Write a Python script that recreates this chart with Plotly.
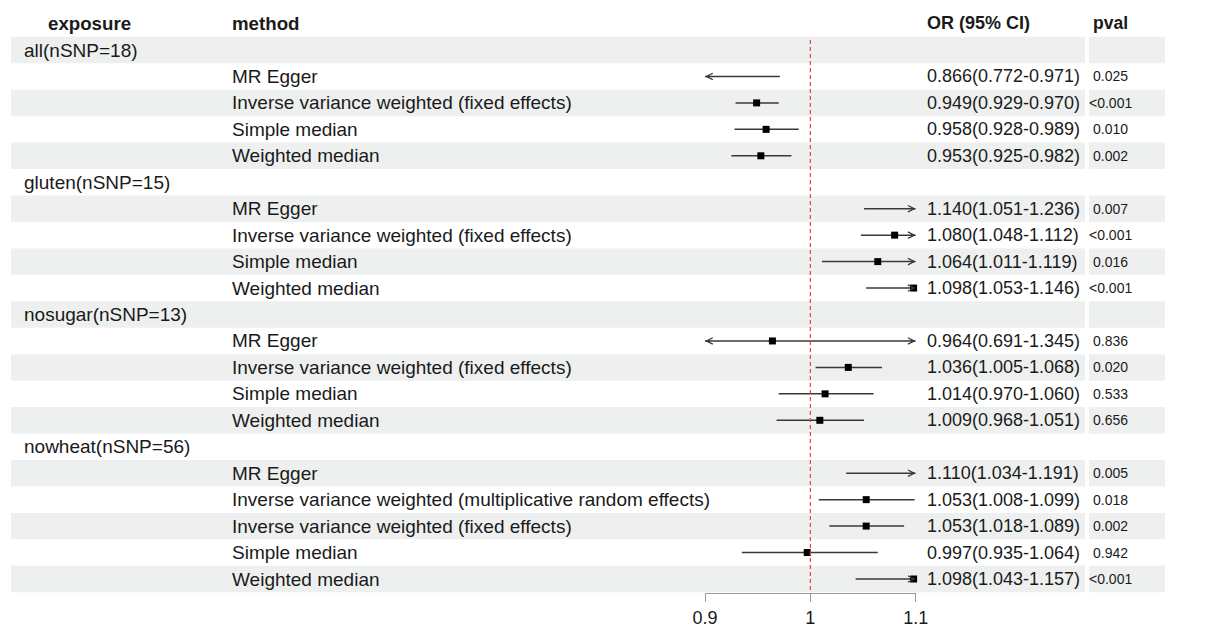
import plotly.graph_objects as go

# ---------------- data ----------------
exposures = ["all(nSNP=18)", "gluten(nSNP=15)", "nosugar(nSNP=13)", "nowheat(nSNP=56)"]
group_sizes = [4, 4, 4, 5]

methods = [
    "MR Egger", "Inverse variance weighted (fixed effects)", "Simple median", "Weighted median",
    "MR Egger", "Inverse variance weighted (fixed effects)", "Simple median", "Weighted median",
    "MR Egger", "Inverse variance weighted (fixed effects)", "Simple median", "Weighted median",
    "MR Egger", "Inverse variance weighted (multiplicative random effects)",
    "Inverse variance weighted (fixed effects)", "Simple median", "Weighted median",
]
or_vals = [0.866, 0.949, 0.958, 0.953,
           1.140, 1.080, 1.064, 1.098,
           0.964, 1.036, 1.014, 1.009,
           1.110, 1.053, 1.053, 0.997, 1.098]
lo_vals = [0.772, 0.929, 0.928, 0.925,
           1.051, 1.048, 1.011, 1.053,
           0.691, 1.005, 0.970, 0.968,
           1.034, 1.008, 1.018, 0.935, 1.043]
hi_vals = [0.971, 0.970, 0.989, 0.982,
           1.236, 1.112, 1.119, 1.146,
           1.345, 1.068, 1.060, 1.051,
           1.191, 1.099, 1.089, 1.064, 1.157]
pvals = ["0.025", "<0.001", "0.010", "0.002",
         "0.007", "<0.001", "0.016", "<0.001",
         "0.836", "0.020", "0.533", "0.656",
         "0.005", "0.018", "0.002", "0.942", "<0.001"]

tick_vals = [0.9, 1.0, 1.1]
tick_text = ["0.9", "1", "1.1"]
x_min, x_max = 0.9, 1.1
ref_value = 1.0

headers = ["exposure", "method", "OR (95% CI)", "pval"]

# ---------------- layout constants ----------------
W, H = 1208, 626
OFF = 8  # page body margin in the viewer
FONT = "Liberation Sans, Arial, sans-serif"
TXT = "#1a1a1a"
BAND = "#eef0ef"
LINE = "#383838"

def px(x):
    return (x - OFF) / W

ROW1 = 50.0 - OFF      # paper pixel of row 1 centre
PITCH = 26.45
AXIS_Y = 593.0 - OFF   # paper pixel of the x axis line
y_top = 1 - ROW1 / PITCH
y_bot = 1 + (AXIS_Y - ROW1) / PITCH

# rows
exp_rows = []
meth_rows = []
r = 1
for g, n in zip(exposures, group_sizes):
    exp_rows.append(r)
    r += 1
    for _ in range(n):
        meth_rows.append(r)
        r += 1
n_rows = r - 1

fig = go.Figure()

# background bands (odd rows)
shapes = []
for row in range(1, n_rows + 1):
    if row % 2 == 1:
        shapes.append(dict(type="rect", xref="paper", yref="y", x0=px(11), x1=px(1085),
                           y0=row - 0.5, y1=row + 0.5, fillcolor=BAND, line=dict(width=0),
                           layer="below"))
        shapes.append(dict(type="rect", xref="paper", yref="y", x0=px(1089), x1=px(1165),
                           y0=row - 0.5, y1=row + 0.5, fillcolor=BAND, line=dict(width=0),
                           layer="below"))

# reference line
shapes.append(dict(type="line", xref="x", yref="y", x0=ref_value, x1=ref_value,
                   y0=0.62, y1=y_bot, line=dict(color="#e0453f", width=1.2, dash="4px,3px")))

# CI lines
lx, ly = [], []
pxs, pys = [], []
annotations = []
for i, row in enumerate(meth_rows):
    lo_c = max(lo_vals[i], x_min)
    hi_c = min(hi_vals[i], x_max)
    lx += [lo_c, hi_c, None]
    ly += [row, row, None]
    if x_min <= or_vals[i] <= x_max:
        pxs.append(or_vals[i])
        pys.append(row)
    if lo_vals[i] < x_min:
        annotations.append(dict(x=x_min, y=row, ax=x_min + 0.006, ay=row, xref="x", yref="y",
                                axref="x", ayref="y", showarrow=True, arrowhead=5, arrowsize=0.9,
                                arrowwidth=1.4, arrowcolor=LINE, text="", standoff=0))
    if hi_vals[i] > x_max:
        annotations.append(dict(x=x_max, y=row, ax=x_max - 0.006, ay=row, xref="x", yref="y",
                                axref="x", ayref="y", showarrow=True, arrowhead=5, arrowsize=0.9,
                                arrowwidth=1.4, arrowcolor=LINE, text="", standoff=0))

fig.add_trace(go.Scatter(x=lx, y=ly, mode="lines", line=dict(color=LINE, width=1.5),
                         hoverinfo="skip", showlegend=False))
fig.add_trace(go.Scatter(x=pxs, y=pys, mode="markers",
                         marker=dict(symbol="square", size=7, color="black"),
                         cliponaxis=False, showlegend=False))

# headers
hy = -0.02
annotations.append(dict(x=px(89), y=hy, xref="paper", yref="y", text="<b>" + headers[0] + "</b>",
                        showarrow=False, xanchor="center", yanchor="middle",
                        font=dict(family=FONT, size=18.7, color=TXT)))
annotations.append(dict(x=px(230), y=hy, xref="paper", yref="y", text="<b>" + headers[1] + "</b>",
                        showarrow=False, xanchor="left", yanchor="middle",
                        font=dict(family=FONT, size=18.7, color=TXT)))
annotations.append(dict(x=px(925), y=hy, xref="paper", yref="y", text="<b>" + headers[2] + "</b>",
                        showarrow=False, xanchor="left", yanchor="middle",
                        font=dict(family=FONT, size=18, color=TXT)))
annotations.append(dict(x=px(1110), y=hy, xref="paper", yref="y", text="<b>" + headers[3] + "</b>",
                        showarrow=False, xanchor="center", yanchor="middle",
                        font=dict(family=FONT, size=17.5, color=TXT)))

for g, row in zip(exposures, exp_rows):
    annotations.append(dict(x=px(22), y=row, xref="paper", yref="y", text=g, showarrow=False,
                            xanchor="left", yanchor="middle",
                            font=dict(family=FONT, size=19, color=TXT)))

for i, row in enumerate(meth_rows):
    annotations.append(dict(x=px(230), y=row, xref="paper", yref="y", text=methods[i],
                            showarrow=False, xanchor="left", yanchor="middle",
                            font=dict(family=FONT, size=19, color=TXT)))
    ci = "{:.3f}({:.3f}-{:.3f})".format(or_vals[i], lo_vals[i], hi_vals[i])
    annotations.append(dict(x=px(925), y=row, xref="paper", yref="y", text=ci,
                            showarrow=False, xanchor="left", yanchor="middle",
                            font=dict(family=FONT, size=18, color=TXT)))
    annotations.append(dict(x=px(1110), y=row, xref="paper", yref="y", text=pvals[i],
                            showarrow=False, xanchor="center", yanchor="middle",
                            font=dict(family=FONT, size=14, color=TXT)))

fig.update_layout(
    template="none",
    width=W, height=H, autosize=False,
    margin=dict(l=0, r=0, t=0, b=0, pad=0, autoexpand=False),
    paper_bgcolor="white", plot_bgcolor="rgba(0,0,0,0)",
    shapes=shapes, annotations=annotations,
    showlegend=False,
    xaxis=dict(domain=[(705 - OFF) / W, (915.7 - OFF) / W], range=[x_min, x_max],
               tickvals=tick_vals, ticktext=tick_text, ticks="outside", ticklen=8, tickwidth=1,
               tickcolor="#9a9a9a", showline=True, linecolor="#9a9a9a", linewidth=1,
               showgrid=False, zeroline=False, automargin=False,
               tickfont=dict(family=FONT, size=18, color=TXT), fixedrange=True),
    yaxis=dict(domain=[(H - AXIS_Y) / H, 1], range=[y_bot, y_top], visible=False,
               showgrid=False, zeroline=False, automargin=False, fixedrange=True),
)

fig.write_html("out.html")
